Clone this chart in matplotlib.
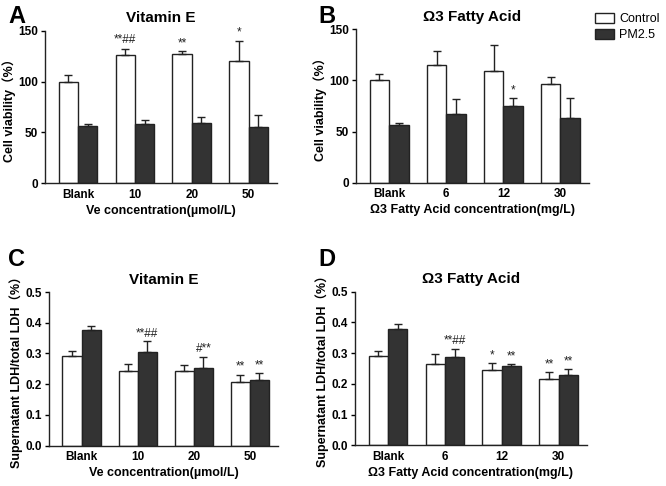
import matplotlib
matplotlib.use("Agg")
import matplotlib.pyplot as plt
import numpy as np

plt.rcParams['font.family'] = ['Liberation Sans', 'Noto Sans CJK SC', 'DejaVu Sans']

# ---- data ----
series_names = ["Control", "PM2.5"]
ve_categories = ["Blank", "10", "20", "50"]
fa_categories = ["Blank", "6", "12", "30"]

# Panel A: cell viability, Vitamin E
a_control = [100, 126, 127, 120.5]
a_control_err = [6, 6.5, 3, 19.7]
a_pm = [56, 58, 59.6, 55]
a_pm_err = [2.5, 4, 5.6, 11.8]
a_control_marks = ["", "**##", "**", "*"]
a_pm_marks = ["", "", "", ""]

# Panel B: cell viability, Omega-3
b_control = [100.4, 114.8, 108.9, 96.8]
b_control_err = [5.9, 14.3, 25.4, 6.2]
b_pm = [56.4, 67.2, 75, 63.6]
b_pm_err = [2.3, 14.3, 7.8, 19.2]
b_control_marks = ["", "", "", ""]
b_pm_marks = ["", "", "*", ""]

# Panel C: LDH, Vitamin E
c_control = [0.293, 0.244, 0.242, 0.207]
c_control_err = [0.016, 0.023, 0.020, 0.024]
c_pm = [0.378, 0.306, 0.253, 0.215]
c_pm_err = [0.013, 0.033, 0.037, 0.021]
c_control_marks = ["", "", "", "**"]
c_pm_marks = ["", "**##", "#**", "**"]

# Panel D: LDH, Omega-3
d_control = [0.292, 0.264, 0.244, 0.215]
d_control_err = [0.016, 0.033, 0.023, 0.024]
d_pm = [0.380, 0.287, 0.258, 0.228]
d_pm_err = [0.014, 0.028, 0.006, 0.020]
d_control_marks = ["", "", "*", "**"]
d_pm_marks = ["", "**##", "**", "**"]

W, H = 666, 486
fig = plt.figure(figsize=(W / 100, H / 100), dpi=100)

def ax_at(l, r, t, b):
    return fig.add_axes([l / W, 1 - b / H, (r - l) / W, (b - t) / H])

dark = "#333333"
edge = "#222222"

def panel(ax, cats, ctl, ctl_err, pm, pm_err, ctl_marks, pm_marks,
          ylim, yticks, yfmt, ylabel, xlabel, title, mark_off):
    x = np.arange(len(cats))
    w = 0.34
    ax.bar(x - w / 2, ctl, w, color="white", edgecolor=edge, linewidth=1.0,
           yerr=[np.zeros(len(ctl)), ctl_err], capsize=3,
           error_kw=dict(elinewidth=1.0, capthick=1.0, ecolor=edge), label=series_names[0])
    ax.bar(x + w / 2, pm, w, color=dark, edgecolor=edge, linewidth=1.0,
           yerr=[np.zeros(len(pm)), pm_err], capsize=3,
           error_kw=dict(elinewidth=1.0, capthick=1.0, ecolor=edge), label=series_names[1])
    for i in range(len(cats)):
        if ctl_marks[i]:
            ax.text(x[i] - w / 2, ctl[i] + ctl_err[i] + mark_off, ctl_marks[i],
                    ha="center", va="bottom", fontsize=8.5, color="#222222")
        if pm_marks[i]:
            ax.text(x[i] + w / 2, pm[i] + pm_err[i] + mark_off, pm_marks[i],
                    ha="center", va="bottom", fontsize=8.5, color="#222222")
    ax.set_xlim(-0.58, 3.5)
    ax.set_ylim(*ylim)
    ax.set_yticks(yticks)
    ax.set_yticklabels([yfmt.format(v) for v in yticks], fontweight="bold", fontsize=8.5)
    ax.set_xticks(x)
    ax.set_xticklabels(cats, fontweight="bold", fontsize=8.5)
    ax.tick_params(axis="x", length=0, pad=4)
    ax.tick_params(axis="y", length=3, width=1, pad=2)
    for s in ["top", "right"]:
        ax.spines[s].set_visible(False)
    for s in ["left", "bottom"]:
        ax.spines[s].set_linewidth(1.0)
        ax.spines[s].set_color("#222222")
    ax.set_ylabel(ylabel, fontsize=9, fontweight="bold", labelpad=1.5)
    ax.set_xlabel(xlabel, fontsize=9, fontweight="bold", labelpad=3)
    ax.set_title(title, fontsize=11, fontweight="bold", pad=6)

axA = ax_at(45, 277, 30.7, 183.3)
axB = ax_at(356, 589, 29.3, 182.7)
axC = ax_at(49, 278, 292, 445.7)
axD = ax_at(355, 587, 291.7, 445.3)

panel(axA, ve_categories, a_control, a_control_err, a_pm, a_pm_err,
      a_control_marks, a_pm_marks, (0, 150), [0, 50, 100, 150], "{:.0f}",
      "Cell viability（%）", "Ve concentration(µmol/L)", "Vitamin E", 2)
panel(axB, fa_categories, b_control, b_control_err, b_pm, b_pm_err,
      b_control_marks, b_pm_marks, (0, 150), [0, 50, 100, 150], "{:.0f}",
      "Cell viability（%）", "Ω3 Fatty Acid concentration(mg/L)", "Ω3 Fatty Acid", 2)
panel(axC, ve_categories, c_control, c_control_err, c_pm, c_pm_err,
      c_control_marks, c_pm_marks, (0, 0.5), [0, 0.1, 0.2, 0.3, 0.4, 0.5], "{:.1f}",
      "Supernatant LDH/total LDH（%）", "Ve concentration(µmol/L)", "Vitamin E", 0.006)
panel(axD, fa_categories, d_control, d_control_err, d_pm, d_pm_err,
      d_control_marks, d_pm_marks, (0, 0.5), [0, 0.1, 0.2, 0.3, 0.4, 0.5], "{:.1f}",
      "Supernatant LDH/total LDH（%）", "Ω3 Fatty Acid concentration(mg/L)", "Ω3 Fatty Acid", 0.006)

axB.legend(loc="upper left", bbox_to_anchor=(595 / W, 1 - 13 / H), bbox_transform=fig.transFigure,
           frameon=False, fontsize=9, handlelength=1.5, handleheight=0.85, borderpad=0,
           borderaxespad=0, labelspacing=0.3, handletextpad=0.45)

for letter, (px, py) in zip("ABCD", [(8, 5), (318, 5), (8, 248), (318, 248)]):
    fig.text(px / W, 1 - py / H, letter, fontsize=17, fontweight="bold", ha="left", va="top")

fig.savefig("out.png", dpi=100)
